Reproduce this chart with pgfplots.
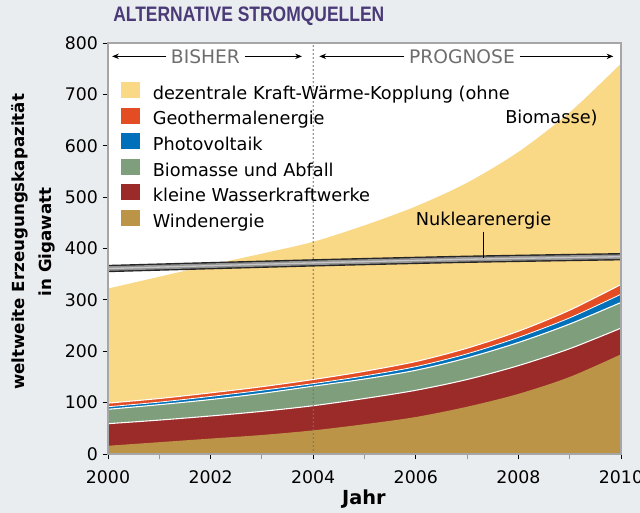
\documentclass[border=0pt]{standalone}
\usepackage{pgfplots}
\pgfplotsset{compat=1.18}
\usepackage{pgfplotstable}
\usepackage{graphicx}
\usepackage{fontspec}
\setmainfont{DejaVu Sans}
\newfontfamily\titlefont{Liberation Sans}
\usetikzlibrary{arrows.meta}

\definecolor{bgc}{RGB}{234,237,240}
\definecolor{kwk}{RGB}{249,216,134}
\definecolor{geo}{RGB}{228,76,36}
\definecolor{pv}{RGB}{0,112,186}
\definecolor{bio}{RGB}{127,158,124}
\definecolor{wasser}{RGB}{155,43,40}
\definecolor{wind}{RGB}{188,148,72}
\definecolor{titel}{RGB}{75,58,120}
\definecolor{hinweis}{RGB}{110,110,110}

% obere Kanten der gestapelten Flaechen (GW)
\pgfplotstableread{
year wind wasser bio pv geo kwk
2000 16 59 87 92 99 322
2001 23 66 96 101 108 345
2002 30 74 106 112 119 368
2003 37 83 118 124 131 390
2004 46 94 132 137 145 413
2005 58 108 146 152 161 445
2006 72 124 163 170 180 482
2007 92 145 187 195 206 528
2008 117 172 217 227 239 588
2009 150 205 253 265 280 665
2010 194 245 295 311 330 760
}\stapel

\pgfplotstableread{
year gw
2000 361
2004 372
2007 379
2010 384
}\nuklear

\begin{document}
\begin{tikzpicture}
\fill[bgc] (-81pt,-44.25pt) rectangle (399pt,340.5pt);
\path[use as bounding box] (-81pt,-44.25pt) rectangle (399pt,340.5pt);
\begin{axis}[
  at={(0,0)}, anchor=south west,
  scale only axis, width=384.75pt, height=308.25pt,
  xmin=2000, xmax=2010, ymin=0, ymax=800,
  xtick={2000,2002,...,2010}, minor xtick={2001,2003,...,2009},
  ytick={0,100,...,800},
  tick align=outside, tick pos=left,
  major tick length=4pt, minor tick length=4pt,
  tick style={black, line width=0.6pt},
  minor tick style={gray!80},
  axis line style={gray!70, line width=0.8pt},
  axis background/.style={fill=white},
  axis on top,
  /pgf/number format/assume math mode=true,
  /pgf/number format/1000 sep={},
  ticklabel style={font=\fontsize{13}{15}\selectfont},
  xticklabel style={yshift=-5pt},
  legend style={at={(axis cs:2000.25,724)}, anchor=north west,
    draw=none, fill=none, inner sep=0pt, outer sep=0pt,
    row sep=3.2pt, column sep=9.75pt,
    font=\fontsize{13.3}{15}\selectfont,
    nodes={inner sep=0pt, text height=10pt, text depth=3pt}},
  legend cell align=left,
  legend image code/.code={\fill[#1] (0pt,-2.5pt) rectangle (14.25pt,9.5pt);},
]
\addplot [fill=kwk, draw=none, smooth] table [x=year, y=kwk] {\stapel} \closedcycle;
\addplot [fill=geo, draw=none, smooth] table [x=year, y=geo] {\stapel} \closedcycle;
\addplot [fill=pv, draw=none, smooth] table [x=year, y=pv] {\stapel} \closedcycle;
\addplot [fill=bio, draw=none, smooth] table [x=year, y=bio] {\stapel} \closedcycle;
\addplot [fill=wasser, draw=none, smooth] table [x=year, y=wasser] {\stapel} \closedcycle;
\addplot [fill=wind, draw=none, smooth] table [x=year, y=wind] {\stapel} \closedcycle;
\legend{dezentrale Kraft-Wärme-Kopplung (ohne, Geothermalenergie, Photovoltaik,
  Biomasse und Abfall, kleine Wasserkraftwerke, Windenergie}

% weisse Trennlinien
\addplot [white, line width=0.8pt, smooth, forget plot] table [x=year, y=geo] {\stapel};
\addplot [white, line width=0.6pt, smooth, forget plot] table [x=year, y=pv] {\stapel};
\addplot [white, line width=0.8pt, smooth, forget plot] table [x=year, y=bio] {\stapel};
\addplot [white, line width=0.8pt, smooth, forget plot] table [x=year, y=wasser] {\stapel};

% Trennung bisher / Prognose
\addplot [gray!90!black, line width=1.3pt, line cap=round, dash pattern=on 0pt off 3pt, forget plot]
  coordinates {(2004,0) (2004,800)};

% Nuklearenergie als Band
\addplot [black!85, line width=5.5pt, smooth, forget plot] table [x=year, y=gw] {\nuklear};
\addplot [gray!85, line width=3.4pt, smooth, forget plot] table [x=year, y=gw] {\nuklear};
\addplot [gray!45, line width=1pt, smooth, forget plot] table [x=year, y=gw] {\nuklear};

\node [inner sep=0pt, text height=10pt, text depth=3pt, anchor=east,
  font=\fontsize{13.3}{15}\selectfont] at (axis cs:2009.55,652) {Biomasse)};
\node [font=\fontsize{13.3}{15}\selectfont] at (axis cs:2007.32,455) {Nuklearenergie};
\draw [black, line width=0.9pt] (axis cs:2007.32,433) -- (axis cs:2007.32,381);

\node (bisher) [font=\fontsize{14}{16}\selectfont, text=hinweis] at (axis cs:2001.9,774) {BISHER};
\node (prog) [font=\fontsize{14}{16}\selectfont, text=hinweis] at (axis cs:2006.9,774) {PROGNOSE};
\draw [-{Stealth[length=5pt,width=4pt]}, line width=0.7pt] (bisher.west) -- (axis cs:2000.08,774);
\draw [-{Stealth[length=5pt,width=4pt]}, line width=0.7pt] (bisher.east) -- (axis cs:2003.78,774);
\draw [-{Stealth[length=5pt,width=4pt]}, line width=0.7pt] (prog.west) -- (axis cs:2004.12,774);
\draw [-{Stealth[length=5pt,width=4pt]}, line width=0.7pt] (prog.east) -- (axis cs:2009.85,774);
\end{axis}

\node [anchor=west, inner sep=0pt, text=titel, font=\titlefont\bfseries\fontsize{13.1}{15}\selectfont]
  at (3.75pt,328.5pt) {\scalebox{1}[1.2]{ALTERNATIVE STROMQUELLEN}};
\node [rotate=90, align=center, font=\bfseries\fontsize{12.5}{20}\selectfont]
  at (-55.9pt,159pt) {weltweite Erzeugungskapazität\\in Gigawatt};
\node [font=\bfseries\fontsize{14.5}{17}\selectfont] at (192pt,-33.75pt) {Jahr};
\end{tikzpicture}
\end{document}
